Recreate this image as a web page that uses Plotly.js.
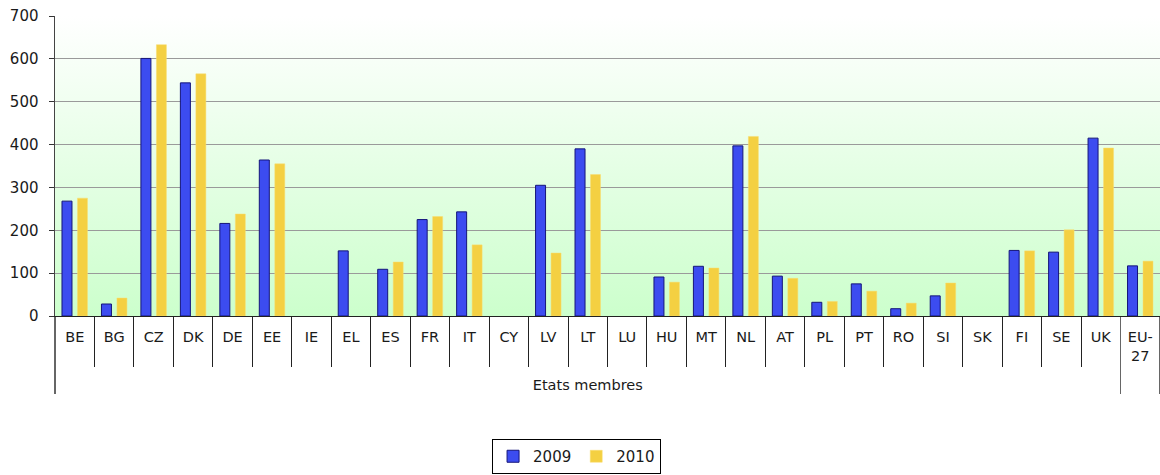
<!DOCTYPE html>
<html>
<head>
<meta charset="utf-8">
<script src="https://cdn.plot.ly/plotly-3.0.1.min.js"></script>
<style>html,body{margin:0;padding:0;background:#fff;}#chart{width:1160px;height:475px;}</style>
</head>
<body>
<div id="chart"></div>
<script>
const codes = ["BE","BG","CZ","DK","DE","EE","IE","EL","ES","FR","IT","CY","LV","LT","LU","HU","MT","NL","AT","PL","PT","RO","SI","SK","FI","SE","UK","EU-<br>27"];
const groupLabel = "<br>Etats membres";
const values2009 = [268,28,601,544,216,364,null,152,109,225,243,null,305,390,null,91,116,397,93,32,75,17,47,null,153,149,415,117];
const values2010 = [275,42,633,565,238,355,null,null,126,232,166,null,147,330,null,79,112,419,88,34,58,30,77,null,152,201,392,128];
const seriesNames = ["2009","2010"];
const yTicks = [0,100,200,300,400,500,600,700];

const groups = codes.map((c, i) => i < codes.length - 1 ? groupLabel : " ");
const x = [groups, codes];

const gradSvg = '<svg xmlns="http://www.w3.org/2000/svg" width="10" height="100" preserveAspectRatio="none"><defs><linearGradient id="g" x1="0" y1="0" x2="0" y2="1"><stop offset="0" stop-color="#ffffff"/><stop offset="1" stop-color="#ccffcc"/></linearGradient></defs><rect width="10" height="100" fill="url(#g)"/></svg>';
const gradUri = 'data:image/svg+xml;base64,' + btoa(gradSvg);

const traces = [
  {type:'bar', name:seriesNames[0], x:x, y:values2009,
   marker:{color:'#3c4cf0', line:{color:'#15157a', width:1}}, hoverinfo:'y'},
  {type:'bar', name:seriesNames[1], x:x, y:values2010,
   marker:{color:'#f4d042', line:{color:'#f8dc70', width:0.5}}, hoverinfo:'y'}
];

const layout = {
  width:1160, height:475,
  margin:{l:55, r:0, t:16, b:159},
  paper_bgcolor:'#ffffff',
  plot_bgcolor:'rgba(0,0,0,0)',
  font:{family:'"DejaVu Sans", Verdana, sans-serif', size:14, color:'#1a1a1a'},
  barmode:'group',
  bargap:0.215,
  bargroupgap:0.355,
  showlegend:true,
  legend:{orientation:'h', x:0.472, xanchor:'center', xref:'paper', y:-0.41, yanchor:'top',
          bordercolor:'#000', borderwidth:1, bgcolor:'#fff', font:{size:15},
          itemwidth:30, tracegroupgap:0},
  images:[{source:gradUri, xref:'paper', yref:'paper', x:0, y:1, sizex:1, sizey:1,
           xanchor:'left', yanchor:'top', sizing:'stretch', layer:'below'}],
  xaxis:{type:'multicategory', automargin:false, showline:true, linecolor:'#222', linewidth:1,
         ticks:'outside', ticklen:50, tickcolor:'#222', tickson:'boundaries', ticklabelstandoff:8,
         tickfont:{size:14.5},
         showdividers:true, dividercolor:'#666', dividerwidth:1.5,
         showgrid:false, fixedrange:true},
  yaxis:{range:[0,700], tickvals:yTicks, ticks:'outside', ticklen:5, tickcolor:'#333', ticklabelstandoff:7,
         tickfont:{size:15},
         showline:true, linecolor:'#444', linewidth:1.5, showgrid:true, gridcolor:'#9a9a9a', gridwidth:1,
         zeroline:false, automargin:false, fixedrange:true}
};

Plotly.newPlot('chart', traces, layout, {displayModeBar:false, staticPlot:true});
</script>
</body>
</html>
